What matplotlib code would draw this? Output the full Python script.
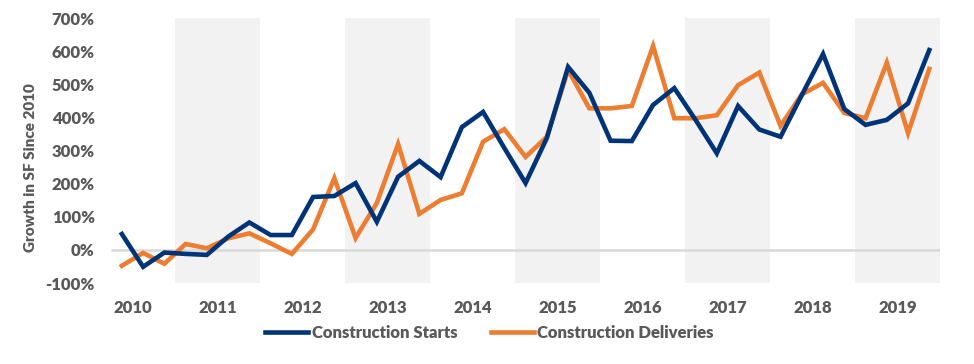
import matplotlib.pyplot as plt
import numpy as np

# quarterly growth in SF since 2010 (%), 2010 Q2 .. 2019 Q4
starts = [48, -51, -8, -12, -15, 40, 83, 45, 45, 160,
          163, 202, 85, 221, 269, 220, 371, 417, 308, 202,
          338, 553, 475, 330, 329, 438, 489, 393, 292, 435,
          364, 342, 468, 592, 426, 378, 393, 443, 604]
deliveries = [-48, -9, -42, 18, 5, 35, 50, 20, -12, 62,
              217, 36, 142, 320, 109, 151, 171, 327, 365, 281,
              342, 544, 428, 428, 435, 616, 398, 398, 407, 498,
              536, 375, 470, 505, 414, 398, 566, 353, 547]
years = [2010, 2011, 2012, 2013, 2014, 2015, 2016, 2017, 2018, 2019]
first_quarter = 2  # series starts in Q2 2010

blue = "#003478"
orange = "#ED7D31"
grey_text = "#595959"
font = ["Lato", "DejaVu Sans"]

x = np.arange(len(starts))
# centre of each calendar year in quarter-index units
year_pos = np.array([4 * i + (2.5 - (first_quarter - 1)) for i in range(len(years))]) - 1

fig = plt.figure(figsize=(9.74, 3.64), dpi=100)
ax = fig.add_axes([0.0924, 0.2225, 0.8726, 0.7272])

# alternate year shading
for i, yr in enumerate(years):
    if yr % 2 == 1:
        ax.axvspan(year_pos[i] - 2, year_pos[i] + 2, color="#F2F2F2", lw=0, zorder=0)

ax.hlines(0, -0.5, 38.5, color="#D9D9D9", lw=1.8, zorder=1)

ax.plot(x, starts, color=blue, lw=3.3, solid_joinstyle="miter", label="Construction Starts", zorder=3)
ax.plot(x, deliveries, color=orange, lw=3.3, solid_joinstyle="miter", label="Construction Deliveries", zorder=2)

ax.set_xlim(-1.5, 38.5)
ax.set_ylim(-100, 700)
ax.set_yticks(range(-100, 701, 100))
ax.set_yticklabels([f"{v}%" for v in range(-100, 701, 100)])
ax.set_xticks(year_pos)
ax.set_xticklabels([str(y) for y in years])

for s in ax.spines.values():
    s.set_visible(False)
ax.tick_params(axis="both", length=0, labelsize=12, labelcolor=grey_text)
ax.tick_params(axis="y", pad=-3.5)
ax.tick_params(axis="x", pad=12)
for lbl in ax.get_xticklabels() + ax.get_yticklabels():
    lbl.set_fontweight("heavy")
    lbl.set_family(font)

ax.set_ylabel("Growth in SF Since 2010", fontsize=11, fontweight="heavy",
              color=grey_text, family=font)
ax.yaxis.set_label_coords(37 / 974, 1 - 168 / 364, transform=fig.transFigure)

leg = ax.legend(loc="center", bbox_to_anchor=(0.47, -0.189), ncol=2, frameon=False,
                handlelength=2.6, handletextpad=0.2, columnspacing=2.0,
                prop={"family": font, "weight": "heavy", "size": 12})
for t in leg.get_texts():
    t.set_color(grey_text)

fig.savefig("out.png", dpi=100)
